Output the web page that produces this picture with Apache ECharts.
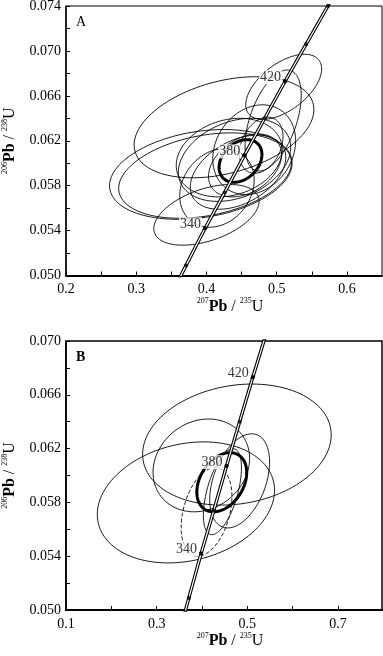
<!DOCTYPE html>
<html>
<head>
<meta charset="utf-8">
<script src="https://cdn.jsdelivr.net/npm/echarts@6/dist/echarts.min.js"></script>
<style>
html, body { margin: 0; padding: 0; background: #fff; }
#main { width: 383px; height: 656px; }
</style>
</head>
<body>
<div id="main"></div>
<script>
// concordia curve (ages in Ma)
var concAge = [300, 320, 340, 360, 380, 400, 420, 440, 460, 480];
var concX = [0.344, 0.371, 0.398, 0.426, 0.454, 0.483, 0.512, 0.542, 0.573, 0.604];
var concY = [0.0476, 0.0509, 0.0542, 0.0574, 0.0607, 0.0640, 0.0673, 0.0706, 0.0740, 0.0773];
var markAges = [320, 340, 360, 380, 400, 420, 440, 460];
var labelAges = [340, 380, 420];

// panel A error ellipses: centre, half width, half height, rho
var aCx  = [0.510, 0.425, 0.495, 0.468, 0.4325, 0.440, 0.392, 0.398, 0.400, 0.415, 0.478, 0.445, 0.455];
var aCy  = [0.0668, 0.0632, 0.0638, 0.0612, 0.0605, 0.0603, 0.0590, 0.0589, 0.0554, 0.0578, 0.0616, 0.0592, 0.0598];
var aSx  = [0.054, 0.128, 0.040, 0.059, 0.0755, 0.080, 0.130, 0.123, 0.075, 0.053, 0.031, 0.068, 0.052];
var aSy  = [0.0029, 0.0045, 0.0045, 0.0040, 0.0035, 0.0037, 0.0040, 0.0038, 0.0027, 0.0035, 0.0025, 0.0033, 0.0028];
var aRho = [0.55, 0.35, 0.5, 0.2, 0.2, 0.3, 0.25, 0.3, 0.45, 0.2, 0.3, 0.4, 0.35];
var aMean = [0.4485, 0.0602, 0.0305, 0.0019, 0.3];

// panel B error ellipses
var bCx  = [0.477, 0.3645, 0.3985, 0.483, 0.445];
var bCy  = [0.0623, 0.0580, 0.06075, 0.0596, 0.0588];
var bSx  = [0.208, 0.1955, 0.1065, 0.066, 0.042];
var bSy  = [0.0045, 0.0045, 0.00345, 0.0035, 0.0032];
var bRho = [0.16, 0.2, 0.15, 0.4, 0.55];
var bDashed = [[0.410, 0.0573, 0.056, 0.0033, 0.35]];
var bMean = [0.4436, 0.0595, 0.055, 0.0022, 0.33];

var serif = 'Liberation Serif';

function zip(cx, cy, sx, sy, rho) {
  return cx.map(function (v, i) { return [v, cy[i], sx[i], sy[i], rho[i]]; });
}

function ellipseSeries(idx, data, width, dash) {
  return {
    type: 'custom',
    xAxisIndex: idx,
    yAxisIndex: idx,
    clip: true,
    silent: true,
    z: 2,
    dimensions: ['cx', 'cy', 'sx', 'sy', 'rho'],
    encode: { x: 0, y: 1 },
    renderItem: function (params, api) {
      var cx = api.value(0), cy = api.value(1), sx = api.value(2), sy = api.value(3);
      var phi = Math.acos(api.value(4));
      var pts = [];
      for (var i = 0; i <= 120; i++) {
        var t = i / 120 * Math.PI * 2;
        pts.push(api.coord([cx + sx * Math.cos(t), cy + sy * Math.cos(t - phi)]));
      }
      return {
        type: 'polyline',
        shape: { points: pts },
        style: { stroke: '#000', fill: null, lineWidth: width, lineDash: dash || null }
      };
    },
    data: data
  };
}

function concordiaSeries(idx) {
  var pts = concX.map(function (x, i) { return [x, concY[i]]; });
  var marks = markAges.map(function (a) { var i = concAge.indexOf(a); return [concX[i], concY[i]]; });
  var labs = labelAges.map(function (a) { var i = concAge.indexOf(a); return [concX[i], concY[i], a]; });
  return [{
    type: 'line', xAxisIndex: idx, yAxisIndex: idx, data: pts, showSymbol: false, silent: true, z: 5,
    lineStyle: { color: '#000', width: 3.4 }
  }, {
    type: 'line', xAxisIndex: idx, yAxisIndex: idx, data: pts, showSymbol: false, silent: true, z: 6,
    lineStyle: { color: '#fff', width: 1.2 }
  }, {
    type: 'scatter', xAxisIndex: idx, yAxisIndex: idx, data: marks, symbolSize: 4, silent: true, z: 7,
    itemStyle: { color: '#000' }
  }, {
    type: 'scatter', xAxisIndex: idx, yAxisIndex: idx, data: labs, symbolSize: 4, silent: true, z: 8,
    itemStyle: { color: '#000' },
    label: {
      show: true, position: 'left', distance: 1, offset: [0, -4],
      formatter: function (p) { return p.value[2]; },
      fontFamily: serif, fontSize: 14, color: '#000',
      backgroundColor: '#fff', padding: [0, 1, 0, 1]
    }
  }];
}

function nameRich() {
  return {
    fontFamily: serif, fontSize: 16, color: '#000', lineHeight: 18,
    rich: {
      s: { fontFamily: serif, fontSize: 8, verticalAlign: 'top', lineHeight: 10 },
      b: { fontFamily: serif, fontSize: 16, fontWeight: 'bold', lineHeight: 18 }
    }
  };
}

function xAxis(idx, min, max, interval, fmt) {
  return {
    type: 'value', gridIndex: idx, min: min, max: max, interval: interval,
    name: '{s|207}{b|Pb} / {s|235}U', nameLocation: 'middle', nameGap: 15,
    nameTextStyle: Object.assign(nameRich(), { padding: [0, 0, 0, 12] }),
    axisLine: { lineStyle: { color: '#000', width: 2 } },
    axisTick: { inside: true, length: 4, lineStyle: { color: '#000', width: 1 } },
    axisLabel: { fontFamily: serif, fontSize: 14, color: '#000', margin: 7, formatter: fmt, showMaxLabel: false },
    splitLine: { show: false }
  };
}

function yAxis(idx, min, max) {
  return {
    type: 'value', gridIndex: idx, min: min, max: max, interval: 0.002,
    name: '{s|206}{b|Pb} / {s|238}U', nameLocation: 'middle', nameGap: 47, nameRotate: 90,
    nameTextStyle: nameRich(),
    axisLine: { lineStyle: { color: '#000', width: 1.5 } },
    axisTick: { inside: true, length: 4, lineStyle: { color: '#000', width: 1 } },
    axisLabel: {
      fontFamily: serif, fontSize: 14, color: '#000', margin: 5,
      formatter: function (v) { var k = Math.round(v * 1000); return (k - 50) % 4 === 0 ? (k / 1000).toFixed(3) : ''; }
    },
    splitLine: { show: false }
  };
}

var chart = echarts.init(document.getElementById('main'));
chart.setOption({
  animation: false,
  backgroundColor: '#fff',
  title: [
    { text: 'A', left: 76, top: 15, padding: 0, textStyle: { fontFamily: serif, fontSize: 14, fontWeight: 'normal', color: '#000' } },
    { text: 'B', left: 76, top: 350, padding: 0, textStyle: { fontFamily: serif, fontSize: 14, fontWeight: 'bold', color: '#000' } }
  ],
  grid: [
    { left: 66, top: 6, width: 316, height: 269.5, outerBoundsMode: 'none', containLabel: false,
      show: true, borderColor: '#000', borderWidth: 1 },
    { left: 66, top: 341, width: 316, height: 269, outerBoundsMode: 'none', containLabel: false,
      show: true, borderColor: '#000', borderWidth: 1.5 }
  ],
  xAxis: [
    xAxis(0, 0.2, 0.65, 0.05, function (v) { var k = v * 10; return Math.abs(k - Math.round(k)) < 1e-6 ? v.toFixed(1) : ''; }),
    xAxis(1, 0.1, 0.797, 0.1, function (v) { var k = Math.round(v * 10); return k % 2 === 1 ? (k / 10).toFixed(1) : ''; })
  ],
  yAxis: [yAxis(0, 0.05, 0.074), yAxis(1, 0.05, 0.07)],
  series: [
    ellipseSeries(0, zip(aCx, aCy, aSx, aSy, aRho), 0.9),
    ellipseSeries(0, [aMean], 3),
    ellipseSeries(1, zip(bCx, bCy, bSx, bSy, bRho), 0.9),
    ellipseSeries(1, bDashed, 0.9, [4, 2]),
    ellipseSeries(1, [bMean], 3)
  ].concat(concordiaSeries(0), concordiaSeries(1))
});
</script>
</body>
</html>
